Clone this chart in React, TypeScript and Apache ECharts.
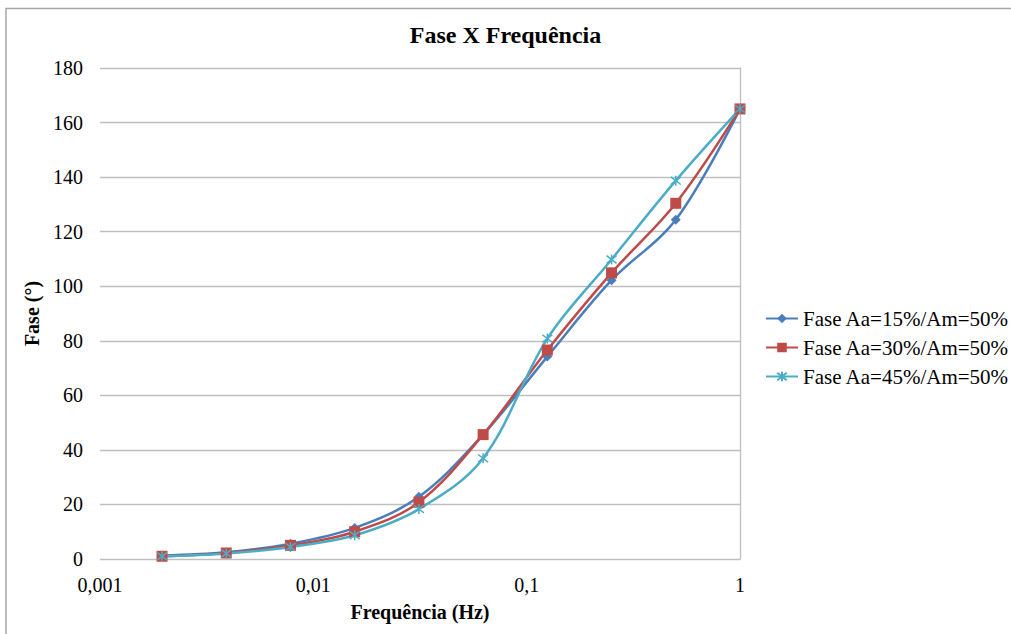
import React, { useEffect, useRef } from "react";
import * as echarts from "echarts";

const frequencies = [0.001953125, 0.00390625, 0.0078125, 0.015625, 0.03125, 0.0625, 0.125, 0.25, 0.5, 1];
const fase15 = [1.3, 2.5, 5.6, 11.4, 22.8, 45.6, 74.2, 102.2, 124.4, 165];
const fase30 = [1.0, 2.2, 5.0, 10.0, 20.8, 45.6, 76.6, 104.9, 130.4, 165];
const fase45 = [1.0, 2.0, 4.4, 8.7, 18.3, 36.9, 80.8, 109.8, 138.7, 165];
const seriesNames = ["Fase Aa=15%/Am=50%", "Fase Aa=30%/Am=50%", "Fase Aa=45%/Am=50%"];
const yTicks = { min: 0, max: 180, interval: 20 };

const FONT = "Liberation Serif";

export default function App() {
  const ref = useRef<HTMLDivElement>(null);
  useEffect(() => {
    if (!ref.current) return;
    const chart = echarts.init(ref.current, null, { renderer: "svg" });
    const pair = (ys: number[]) => frequencies.map((x, i) => [x, ys[i]]);
    const starPath = "path://M0,0L10,10M10,0L0,10M5,-1.5L5,11.5";
    chart.setOption({
      animation: false,
      backgroundColor: "#ffffff",
      textStyle: { fontFamily: FONT },
      title: {
        text: "Fase X Frequência",
        left: "center",
        top: 18,
        textStyle: { fontFamily: FONT, fontSize: 24, fontWeight: "bold", color: "#000" },
      },
      graphic: [
        {
          type: "rect",
          shape: { x: 6, y: 8.5, width: 1010, height: 630 },
          style: { fill: "none", stroke: "#a6a6a6", lineWidth: 1.5 },
          silent: true,
        },
      ],
      legend: {
        orient: "vertical",
        left: 760,
        top: 303,
        itemWidth: 32,
        itemHeight: 12,
        itemGap: 8,
        textStyle: { fontFamily: FONT, fontSize: 21, color: "#000" },
        data: seriesNames,
      },
      grid: { left: 100, right: 271, top: 68, bottom: 75, containLabel: false },
      xAxis: {
        type: "log",
        logBase: 10,
        min: 0.001,
        max: 1,
        name: "Frequência (Hz)",
        nameLocation: "middle",
        nameGap: 43,
        nameTextStyle: { fontFamily: FONT, fontSize: 20, fontWeight: "bold", color: "#000" },
        axisLine: { show: false },
        axisTick: { show: false },
        splitLine: { show: false },
        axisLabel: {
          fontFamily: FONT,
          fontSize: 20,
          color: "#000",
          margin: 16,
          formatter: (v: number) => String(Number(v.toPrecision(3))).replace(".", ","),
        },
      },
      yAxis: [
        {
          type: "value",
          min: yTicks.min,
          max: yTicks.max,
          interval: yTicks.interval,
          name: "Fase (°)",
          nameLocation: "middle",
          nameGap: 56,
          nameRotate: 90,
          nameTextStyle: { fontFamily: FONT, fontSize: 20, fontWeight: "bold", color: "#000" },
          axisLine: { show: false },
          axisTick: { show: false },
          splitLine: { show: true, lineStyle: { color: "#bfbfbf", width: 1.3 } },
          axisLabel: { fontFamily: FONT, fontSize: 20, color: "#000", margin: 17 },
        },
        {
          type: "value",
          position: "right",
          min: yTicks.min,
          max: yTicks.max,
          interval: yTicks.interval,
          axisLine: { show: true, lineStyle: { color: "#bfbfbf", width: 1.3 } },
          axisTick: { show: false },
          axisLabel: { show: false },
          splitLine: { show: false },
        },
      ],
      series: [
        {
          name: seriesNames[0],
          type: "line",
          smooth: 0.35,
          data: pair(fase15),
          symbol: "diamond",
          symbolSize: 10,
          lineStyle: { color: "#4A7EBB", width: 2.5 },
          itemStyle: { color: "#4A7EBB" },
        },
        {
          name: seriesNames[1],
          type: "line",
          smooth: 0.35,
          data: pair(fase30),
          symbol: "rect",
          symbolSize: 11,
          lineStyle: { color: "#BE4B48", width: 2.5 },
          itemStyle: { color: "#BE4B48" },
        },
        {
          name: seriesNames[2],
          type: "line",
          smooth: 0.35,
          data: pair(fase45),
          symbol: starPath,
          symbolSize: 10,
          lineStyle: { color: "#4BACC6", width: 2.5 },
          itemStyle: { color: "#4BACC6", borderColor: "#4BACC6", borderWidth: 1.5 },
        },
      ],
    });
    return () => chart.dispose();
  }, []);
  return (
    <div
      ref={ref}
      style={{ position: "fixed", left: 0, top: 0, width: 1011, height: 634, background: "#fff" }}
    />
  );
}
